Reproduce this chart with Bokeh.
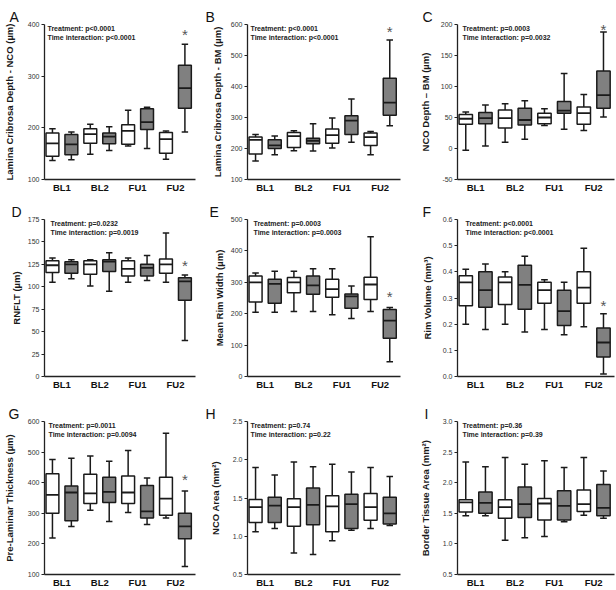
from bokeh.plotting import figure
from bokeh.models import Range1d, FixedTicker, Label, NumeralTickFormatter, LinearAxis
from bokeh.layouts import gridplot
from bokeh.embed import file_html
from bokeh.resources import INLINE

# ---------------- data ----------------
categories = ["BL1", "BL2", "FU1", "FU2"]
# each entry: (whisker low, Q1, median, Q3, whisker high) per category
a_white = [(137, 145, 170, 190, 198), (149, 170, 188, 198, 207), (165, 168, 194, 206, 234), (139, 151, 178, 191, 194)]
a_grey = [(138, 148, 168, 187, 192), (156, 169, 183, 190, 202), (160, 197, 211, 237, 240), (192, 238, 277, 321, 362)]
b_white = [(160, 182, 228, 237, 245), (193, 203, 240, 252, 257), (202, 217, 243, 263, 298), (180, 210, 237, 250, 255)]
b_grey = [(180, 200, 210, 228, 240), (192, 215, 225, 233, 280), (220, 245, 290, 306, 360), (273, 307, 348, 427, 550)]
c_white = [(-3, 39, 48, 55, 59), (10, 33, 49, 62, 72), (37, 40, 50, 57, 64), (29, 39, 57, 67, 87)]
c_grey = [(4, 40, 49, 58, 70), (15, 38, 46, 65, 77), (31, 57, 61, 76, 121), (51, 65, 86, 125, 188)]
d_white = [(105, 116, 124, 129, 132), (101, 114, 125, 129, 130), (105, 112, 120, 129, 132), (105, 115, 125, 131, 160)]
d_grey = [(109, 115, 125, 128, 130), (95, 117, 128, 130, 138), (107, 112, 121, 125, 135), (40, 85, 106, 110, 113)]
e_white = [(205, 237, 300, 320, 330), (207, 267, 300, 315, 335), (197, 252, 278, 310, 343), (207, 245, 293, 316, 445)]
e_grey = [(205, 233, 295, 310, 335), (207, 262, 290, 320, 343), (185, 217, 255, 263, 288), (47, 122, 178, 213, 220)]
f_white = [(0.20, 0.27, 0.36, 0.385, 0.41), (0.20, 0.275, 0.36, 0.38, 0.40), (0.18, 0.28, 0.33, 0.36, 0.37), (0.19, 0.28, 0.34, 0.40, 0.49)]
f_grey = [(0.18, 0.265, 0.33, 0.40, 0.43), (0.17, 0.257, 0.35, 0.425, 0.46), (0.16, 0.195, 0.25, 0.33, 0.36), (0.01, 0.075, 0.13, 0.185, 0.24)]
g_white = [(219, 300, 360, 429, 476), (310, 332, 365, 428, 487), (303, 332, 368, 422, 505), (285, 294, 348, 418, 562)]
g_grey = [(257, 276, 368, 389, 480), (273, 335, 370, 418, 470), (263, 285, 306, 391, 415), (126, 217, 257, 300, 373)]
h_white = [(1.06, 1.18, 1.38, 1.48, 1.90), (0.78, 1.13, 1.38, 1.49, 1.97), (0.94, 1.06, 1.39, 1.53, 1.94), (1.10, 1.21, 1.38, 1.56, 1.90)]
h_grey = [(1.10, 1.18, 1.40, 1.51, 1.80), (0.76, 1.15, 1.41, 1.63, 1.91), (1.08, 1.10, 1.42, 1.55, 1.84), (1.14, 1.16, 1.30, 1.51, 1.78)]
i_white = [(1.46, 1.52, 1.68, 1.72, 2.34), (1.06, 1.42, 1.60, 1.72, 2.41), (1.12, 1.39, 1.66, 1.74, 2.36), (1.47, 1.53, 1.65, 1.88, 2.41)]
i_grey = [(1.46, 1.50, 1.67, 1.85, 2.26), (1.10, 1.43, 1.65, 1.93, 2.30), (1.36, 1.39, 1.62, 1.87, 2.25), (1.42, 1.46, 1.59, 1.97, 2.19)]

letters = ["A", "B", "C", "D", "E", "F", "G", "H", "I"]
y_labels = ["Lamina Cribrosa Depth - NCO (µm)", "Lamina Cribrosa Depth - BM (µm)", "NCO Depth – BM (µm)",
            "RNFLT (µm)", "Mean Rim Width (µm)", "Rim Volume (mm³)",
            "Pre-Laminar Thickness (µm)", "NCO Area (mm²)", "Border Tissue Area (mm²)"]
y_ticks = [[100, 200, 300, 400], [100, 200, 300, 400, 500, 600], [-50, 0, 50, 100, 150, 200],
           [0, 25, 50, 75, 100, 125, 150, 175], [0, 100, 200, 300, 400, 500], [0.0, 0.1, 0.2, 0.3, 0.4, 0.5, 0.6],
           [100, 200, 300, 400, 500, 600], [0.5, 1.0, 1.5, 2.0, 2.5], [0.5, 1.0, 1.5, 2.0, 2.5, 3.0]]
y_formats = ["0", "0", "0", "0", "0", "0.0", "0", "0.0", "0.0"]
treatment_p = ["p<0.0001", "p<0.0001", "p=0.0003", "p=0.0232", "p=0.0003", "p<0.0001", "p=0.0011", "p=0.74", "p=0.36"]
interaction_p = ["p<0.0001", "p<0.0001", "p=0.0032", "p=0.0019", "p=0.0003", "p<0.0001", "p=0.0094", "p=0.22", "p=0.39"]
star_y = [383, 581, 194, 125, 259, 0.277, 413, None, None]

whites = [a_white, b_white, c_white, d_white, e_white, f_white, g_white, h_white, i_white]
greys = [a_grey, b_grey, c_grey, d_grey, e_grey, f_grey, g_grey, h_grey, i_grey]

# ---------------- layout / style ----------------
FONT = "Liberation Sans"
COL_W = [205, 205, 206]
ROW_H = [195, 197, 198]
ROW_TOP = [24, 24, 29]
ROW_BOT = [15, 15, 15]
frame_left = [38, 42, 45, 33, 38, 45, 39, 42, 47]
frame_right = [10, 9, 2, 10, 8, 1, 8, 10, 1]
label_standoff = [10, 5, 7, 3, 3, 7, 10, 9, 9]
text_dx = [3, 3, 5, 6, 6, 8, 4, 3, 5]
letter_dx = [-35, -42, -35, -33, -38, -35, -36, -42, -33]
letter_lift = [8, 6, 7, 7, 6, 6, 9, 12, 9]
BOX_W = 0.34
CAP_W = 0.17
OFFSET = 0.25
GREY = "#808080"
INK = "#1a1a1a"


def draw_group(p, stats, off, fill):
    xs = [i + 1 + off for i in range(len(stats))]
    low = [s[0] for s in stats]
    q1 = [s[1] for s in stats]
    med = [s[2] for s in stats]
    q3 = [s[3] for s in stats]
    high = [s[4] for s in stats]
    p.segment(x0=xs, y0=low, x1=xs, y1=high, line_color=INK, line_width=1.5)
    p.segment(x0=[x - CAP_W / 2 for x in xs], y0=low, x1=[x + CAP_W / 2 for x in xs], y1=low,
              line_color=INK, line_width=1.5)
    p.segment(x0=[x - CAP_W / 2 for x in xs], y0=high, x1=[x + CAP_W / 2 for x in xs], y1=high,
              line_color=INK, line_width=1.5)
    p.quad(left=[x - BOX_W / 2 for x in xs], right=[x + BOX_W / 2 for x in xs], bottom=q1, top=q3,
           fill_color=fill, line_color=INK, line_width=1.5)
    p.segment(x0=[x - BOX_W / 2 for x in xs], y0=med, x1=[x + BOX_W / 2 for x in xs], y1=med,
              line_color=INK, line_width=1.8)


figs = []
for k in range(9):
    r = k // 3
    c = k % 3
    ticks = y_ticks[k]
    p = figure(width=COL_W[c], height=ROW_H[r], output_backend="svg", toolbar_location=None,
               x_range=Range1d(0.54, 4.53), y_range=Range1d(ticks[0], ticks[-1]),
               min_border_left=frame_left[k], min_border_right=frame_right[k],
               min_border_top=ROW_TOP[r], min_border_bottom=ROW_BOT[r])
    p.outline_line_color = None
    p.xgrid.visible = False
    p.ygrid.visible = False
    p.background_fill_color = "white"

    ya = p.left[0]
    xa = p.below[0]

    # empty spacer above the frame so the panel letter sits higher
    spacer = LinearAxis(ticker=FixedTicker(ticks=[]), major_tick_out=letter_lift[k], major_tick_in=0,
                        minor_tick_out=0, minor_tick_in=0, major_label_standoff=0,
                        axis_line_color=None, major_tick_line_color=None, minor_tick_line_color=None)
    p.add_layout(spacer, "above")

    # panel letter
    p.title.text = letters[k]
    p.title.align = "left"
    p.title.offset = letter_dx[k]
    p.title.standoff = 0
    p.title.text_font = FONT
    p.title.text_font_style = "normal"
    p.title.text_font_size = "14px"
    p.title.text_color = "#111111"

    # y axis
    ya.ticker = FixedTicker(ticks=ticks)
    ya.formatter = NumeralTickFormatter(format=y_formats[k])
    ya.axis_label = y_labels[k]
    ya.axis_label_text_font = FONT
    ya.axis_label_text_font_style = "bold"
    ya.axis_label_text_font_size = "9.5px"
    ya.axis_label_text_color = INK
    ya.axis_label_standoff = label_standoff[k]
    ya.major_label_text_font = FONT
    ya.major_label_text_font_size = "7px"
    ya.major_label_text_color = "#333333"
    ya.major_label_standoff = 2
    ya.major_tick_out = 3
    ya.major_tick_in = 0
    ya.minor_tick_out = 0
    ya.minor_tick_in = 0
    ya.axis_line_color = "#222222"
    ya.axis_line_width = 1.3
    ya.major_tick_line_color = "#222222"
    ya.major_tick_line_width = 1.2

    # x axis
    xa.ticker = FixedTicker(ticks=[1, 2, 3, 4])
    xa.major_label_overrides = {i + 1: name for i, name in enumerate(categories)}
    xa.major_label_text_font = FONT
    xa.major_label_text_font_style = "bold"
    xa.major_label_text_font_size = "9.5px"
    xa.major_label_text_color = "#111111"
    xa.major_label_standoff = 2
    xa.major_tick_out = 0
    xa.major_tick_in = 0
    xa.minor_tick_out = 0
    xa.minor_tick_in = 0
    xa.axis_line_color = "#222222"
    xa.axis_line_width = 1.3

    draw_group(p, whites[k], -OFFSET, "white")
    draw_group(p, greys[k], OFFSET, GREY)

    # p-value texts, anchored to the top of the y range
    p.add_layout(Label(x=text_dx[k], x_units="screen", y=ticks[-1], y_units="data", y_offset=-4,
                       text="Treatment: " + treatment_p[k], text_font=FONT, text_font_style="bold",
                       text_font_size="7px", text_color="#222222", text_baseline="alphabetic"))
    p.add_layout(Label(x=text_dx[k], x_units="screen", y=ticks[-1], y_units="data", y_offset=-12.5,
                       text="Time interaction: " + interaction_p[k], text_font=FONT, text_font_style="bold",
                       text_font_size="7px", text_color="#222222", text_baseline="alphabetic"))
    if star_y[k] is not None:
        p.add_layout(Label(x=4 + OFFSET, y=star_y[k], y_offset=-1, text="*", text_font=FONT,
                           text_font_size="15px", text_color="#555555", text_align="center",
                           text_baseline="alphabetic"))
    figs.append(p)

grid = gridplot([figs[0:3], figs[3:6], figs[6:9]], toolbar_location=None)

open("out.html", "w").write(file_html(grid, INLINE))
